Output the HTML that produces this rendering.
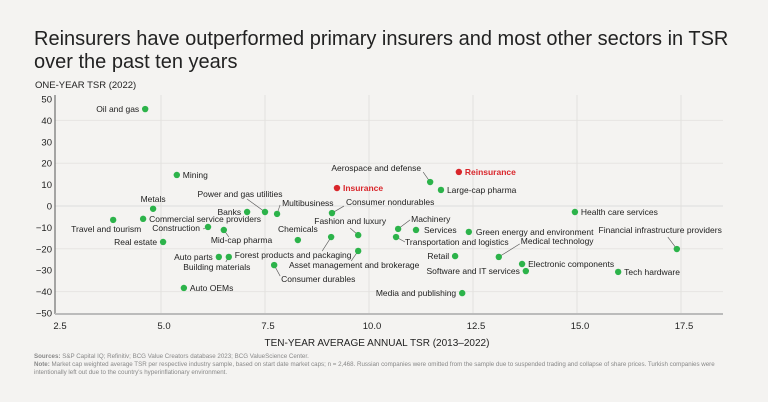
<!DOCTYPE html>
<html><head><meta charset="utf-8">
<style>
body{margin:0;background:#f4f3f1;}
svg{display:block;font-family:"Liberation Sans",sans-serif;}
</style></head>
<body>
<svg id="chart" width="768" height="402" viewBox="0 0 768 402">
<rect width="768" height="402" fill="#f4f3f1"/>
<text x="34" y="45" font-size="20" fill="#222">Reinsurers have outperformed primary insurers and most other sectors in TSR</text>
<text x="34" y="68" font-size="20" fill="#222">over the past ten years</text>
<text x="35" y="88" font-size="9.5" fill="#222">ONE-YEAR TSR (2022)</text>
<g id="grid"></g>
<g id="axes"></g>
<g id="marks"></g>
<text x="377" y="346" font-size="10" fill="#222" text-anchor="middle">TEN-YEAR AVERAGE ANNUAL TSR (2013–2022)</text>
<text x="34" y="358" font-size="6.2" fill="#888"><tspan font-weight="bold">Sources:</tspan> S&amp;P Capital IQ; Refinitiv; BCG Value Creators database 2023; BCG ValueScience Center.</text>
<text x="34" y="366" font-size="6.2" fill="#888"><tspan font-weight="bold">Note:</tspan> Market cap weighted average TSR per respective industry sample, based on start date market caps; n = 2,468. Russian companies were omitted from the sample due to suspended trading and collapse of share prices. Turkish companies were</text>
<text x="34" y="374" font-size="6.2" fill="#888">intentionally left out due to the country's hyperinflationary environment.</text>
</svg>
<script>
const sectors=["Oil and gas","Mining","Metals","Travel and tourism","Commercial service providers","Real estate","Construction","Mid-cap pharma","Banks","Power and gas utilities","Multibusiness","Consumer nondurables","Chemicals","Forest products and packaging","Fashion and luxury","Asset management and brokerage","Auto parts","Building materials","Consumer durables","Auto OEMs","Insurance","Aerospace and defense","Reinsurance","Large-cap pharma","Health care services","Machinery","Services","Transportation and logistics","Green energy and environment","Medical technology","Retail","Electronic components","Software and IT services","Tech hardware","Financial infrastructure providers","Media and publishing"];
const tenYearTSR=[4.62,5.38,4.81,3.85,4.57,5.05,6.13,6.51,7.07,7.5,7.79,9.11,8.29,9.09,9.74,9.74,6.39,6.63,7.72,5.55,9.23,11.47,12.16,11.73,14.95,10.7,11.13,10.65,12.4,13.12,12.07,13.68,13.77,15.99,17.4,12.24];
const oneYearTSR=[45.3,14.5,-1.3,-6.5,-6,-16.8,-9.8,-11.2,-2.8,-2.8,-3.7,-3.3,-15.9,-14.5,-13.6,-21,-23.8,-23.8,-27.6,-38.3,8.4,11.2,15.9,7.5,-2.8,-10.7,-11.2,-14.5,-12.1,-23.8,-23.4,-27.1,-30.4,-30.8,-20.1,-40.7];
const highlighted=["Insurance","Reinsurance"];
const xTicks=[2.5,5.0,7.5,10.0,12.5,15.0,17.5];
const yTicks=[50,40,30,20,10,0,-10,-20,-30,-40,-50];
// label placement: [dx, dy, anchor, leaderDx, leaderDy] (leader end relative to point; null = none)
const labelPos=[[-6,3,"end",null,null],[6,3,"start",null,null],[0,-7,"middle",null,null],[-7,12,"middle",null,null],[6,3,"start",null,null],[-6,3,"end",null,null],
[-8,4,"end",-5,2],[-13,13,"start",5,7],[-6,3,"end",null,null],[-25,-15,"middle",-18,-13],[5,-8,"start",3,-9],[14,-8,"start",12,-7],
[0,-8,"middle",null,null],[-38,21,"middle",-9,14],[-8,-11,"middle",-8,-7],[-4,17,"middle",-7,10],[-6,3,"end",null,null],[-12,13,"middle",-3,5],
[7,17,"start",6,11],[6,3,"start",null,null],[6,3,"start",null,null],[-9,-11,"end",-7,-10],[6,3,"start",null,null],[6,3,"start",null,null],
[6,3,"start",null,null],[13,-7,"start",12,-9],[8,3,"start",null,null],[9,8,"start",9,5],[7,3,"start",null,null],[22,-13,"start",21,-13],
[-6,3,"end",null,null],[6,3,"start",null,null],[-6,3,"end",null,null],[6,3,"start",null,null],[45,-16,"end",-9,-12],[-6,3,"end",null,null]];
const NS="http://www.w3.org/2000/svg";
const L=55,R=723,T=95,B=313;
function xs(v){return 57+(v-2.5)*41.6;}
function ys(v){return 206-v*2.14;}
function mk(tag,attrs,parent){const e=document.createElementNS(NS,tag);for(const k in attrs)e.setAttribute(k,attrs[k]);parent.appendChild(e);return e;}
const grid=document.getElementById('grid'),axes=document.getElementById('axes'),marks=document.getElementById('marks');
yTicks.forEach(t=>{
  if(t%20===0&&t!==50&&t!==-50){const g=mk('line',{x1:L,x2:R,y1:ys(t),y2:ys(t),stroke:'#e6e5e2','stroke-width':1},grid);
  
  }
  const tx=mk('text',{x:52,y:ys(t)+3.5,'font-size':9.5,fill:'#222','text-anchor':'end'},axes);
  tx.textContent=t<0?'−'+Math.abs(t):String(t);
  
  
});
const z=mk('line',{x1:L,x2:R,y1:ys(0),y2:ys(0),stroke:'#ddd','stroke-width':1},grid);


xTicks.forEach(t=>{
  if(t>2.5){const g=mk('line',{x1:xs(t),x2:xs(t),y1:T,y2:B,stroke:'#e2e1de','stroke-width':1},grid);
  
  }
  const tx=mk('text',{x:xs(t)+3,y:329,'font-size':9.5,fill:'#222','text-anchor':'middle'},axes);
  tx.textContent=t.toFixed(1);
  
  
});
const ya=mk('line',{x1:L,x2:L,y1:T,y2:B+1,stroke:'#555','stroke-width':1},axes);


const xa=mk('line',{x1:L,x2:R,y1:B+1,y2:B+1,stroke:'#bbb','stroke-width':2},axes);


sectors.forEach((s,i)=>{
  const cx=xs(tenYearTSR[i]),cy=ys(oneYearTSR[i]);
  const hi=highlighted.includes(s);
  const p=labelPos[i];
  const lx=cx+p[0],ly=cy+p[1];
  if(p[3]!==null){
    const ln=mk('line',{x1:cx,y1:cy,x2:cx+p[3],y2:cy+p[4],stroke:'#555','stroke-width':0.6},marks);
    
    
  }
  const c=mk('circle',{cx:cx,cy:cy,r:3.2,fill:hi?'#d9262b':'#2cb34a'},marks);
  
  
  const t=mk('text',{x:lx,y:ly,'font-size':8.5,fill:hi?'#d9262b':'#222','font-weight':hi?'bold':'normal','text-anchor':p[2]},marks);
  t.textContent=s;
  
  
});
</script>
</body></html>
